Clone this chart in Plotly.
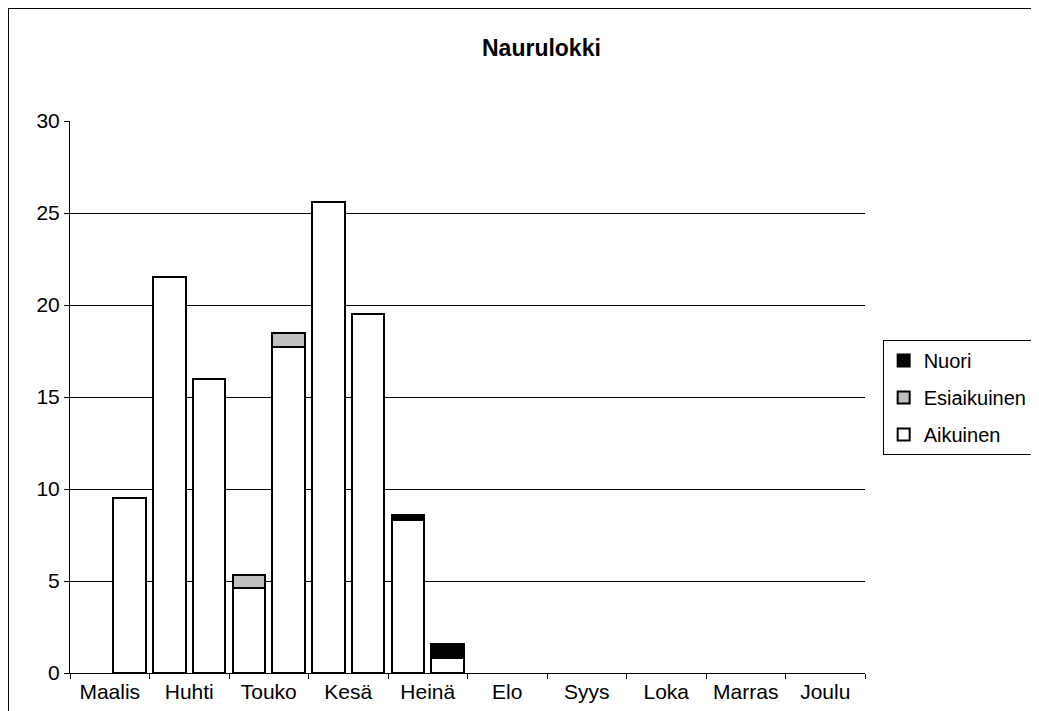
import plotly.graph_objects as go

# half-month slots (two per month), Maalis..Joulu
months = ["Maalis", "Huhti", "Touko", "Kesä", "Heinä",
          "Elo", "Syys", "Loka", "Marras", "Joulu"]
slots = list(range(20))

aikuinen = [None, 9.5, 21.5, 16.0, 4.6, 17.7, 25.6, 19.5, 8.3, 0.8,
            None, None, None, None, None, None, None, None, None, None]
esiaikuinen = [None, None, None, None, 0.7, 0.8, None, None, None, None,
               None, None, None, None, None, None, None, None, None, None]
nuori = [None, None, None, None, None, None, None, None, 0.3, 0.8,
         None, None, None, None, None, None, None, None, None, None]

yticks = [0, 5, 10, 15, 20, 25, 30]

FONT = "Liberation Sans, Arial, sans-serif"
outline = dict(color="black", width=2)
H = 703

fig = go.Figure()
fig.add_trace(go.Bar(x=slots, y=aikuinen, name="Aikuinen",
                     legendgroup="a", legendrank=3,
                     marker=dict(color="white", line=outline)))
fig.add_trace(go.Bar(x=slots, y=esiaikuinen, name="Esiaikuinen",
                     legendgroup="e", legendrank=2,
                     marker=dict(color="#c0c0c0", line=outline)))
fig.add_trace(go.Bar(x=slots, y=nuori, name="Nuori",
                     legendgroup="n", legendrank=1,
                     marker=dict(color="black", line=outline)))

# chart frame: only top and left edges fall inside the picture
frame = dict(color="black", width=2)

fig.update_layout(
    width=1023, height=H,
    barmode="stack", bargap=0.18,
    paper_bgcolor="white", plot_bgcolor="white",
    font=dict(family=FONT, size=21, color="black"),
    margin=dict(l=62, r=166, t=113, b=38),
    title=dict(text="<b>Naurulokki</b>", xref="paper", x=0.593, xanchor="center",
               yref="container", y=1 - 40 / H, yanchor="middle",
               font=dict(size=23)),
    showlegend=True,
    legend=dict(xref="container", yref="container", x=0.855, xanchor="left",
                y=1 - 332 / H, yanchor="top",
                traceorder="grouped", tracegroupgap=8,
                bordercolor="black", borderwidth=1,
                font=dict(size=20), bgcolor="white", itemclick=False),
    xaxis=dict(range=[-0.5, 19.5], showgrid=False, zeroline=False,
               automargin=False,
               showline=True, linecolor="black", linewidth=1,
               tickmode="array", tickvals=[2 * i + 0.5 for i in range(10)],
               ticktext=months, ticks="", ticklen=0,
               minor=dict(tickmode="array",
                          tickvals=[2 * i - 0.5 for i in range(11)],
                          ticks="outside", ticklen=5, tickcolor="black",
                          showgrid=False)),
    yaxis=dict(range=[0, 30], tickvals=yticks, showgrid=True,
               automargin=False,
               gridcolor="black", gridwidth=1, zeroline=False,
               showline=True, linecolor="black", linewidth=1,
               ticks="outside", ticklen=5, tickcolor="black"),
    shapes=[
        dict(type="line", xref="paper", yref="paper",
             x0=-0.078, x1=1.25, y0=1.2047, y1=1.2047, line=frame),
        dict(type="line", xref="paper", yref="paper",
             x0=-0.078, x1=-0.078, y0=-0.1, y1=1.2047, line=frame),
    ],
)

fig.write_html("out.html")
